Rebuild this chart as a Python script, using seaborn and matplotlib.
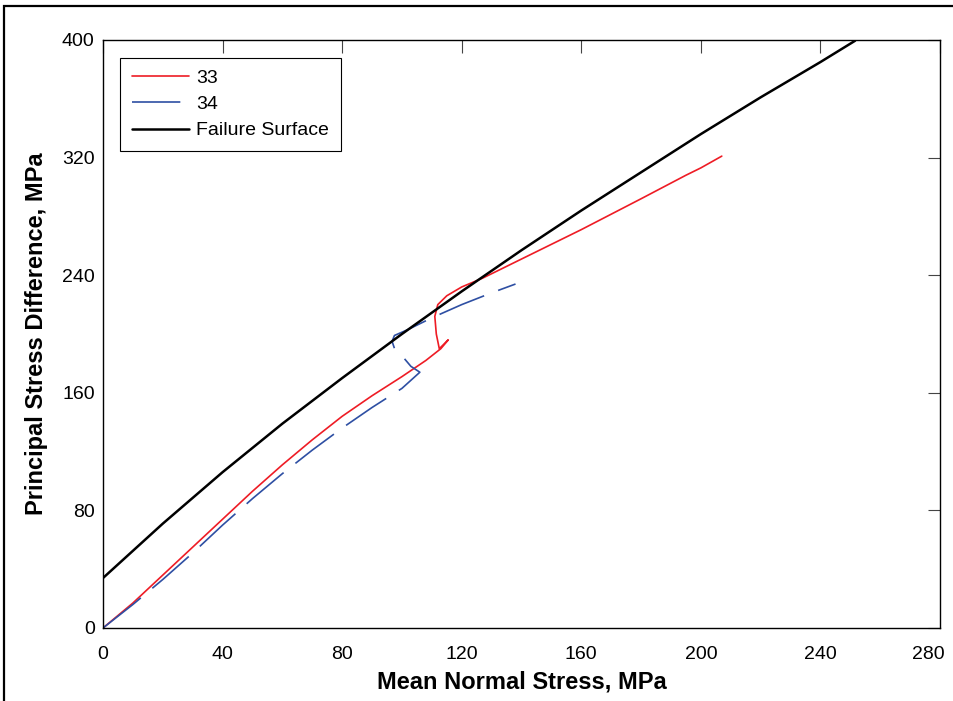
import numpy as np
import pandas as pd
import matplotlib
matplotlib.use('Agg')
import matplotlib.pyplot as plt
import matplotlib.transforms as mtransforms
import seaborn as sns
from matplotlib.patches import Rectangle

# Données (contrainte moyenne, différence de contraintes)
x_33 = [0, 10, 20, 30, 40, 50, 60, 70, 80, 90, 100, 108, 113, 115.5, 112.5,
        111.5, 111, 112, 115, 120, 127, 140, 160, 180, 195, 200, 207]
y_33 = [0, 17, 36, 55, 74, 93, 111, 128, 144, 158, 171, 182, 190, 196, 190,
        200, 212, 220, 226, 232, 238, 251, 271, 292, 308, 313, 321]

x_34 = [0, 10, 20, 30, 40, 50, 60, 70, 80, 90, 100, 106, 103, 100.5, 97.7,
        96.7, 97.5, 102, 110, 120, 130, 138]
y_34 = [0, 16, 33, 51, 70, 88, 105, 121, 136, 150, 163, 174, 178, 184, 189,
        195, 199, 203, 211, 220, 228, 234]

x_fs = [0, 20, 40, 60, 80, 100, 120, 140, 160, 180, 200, 220, 240, 251.6]
y_fs = [34, 71, 106, 139, 170, 200, 229, 257, 284, 310, 336, 361, 385, 399.5]

x_ticks = [0, 40, 80, 120, 160, 200, 240, 280]
y_ticks = [0, 80, 160, 240, 320, 400]

sns.set_style('white')
plt.rcParams['font.family'] = ['Liberation Sans', 'DejaVu Sans']
plt.rcParams['text.color'] = 'black'
plt.rcParams['axes.labelcolor'] = 'black'
plt.rcParams['xtick.color'] = 'black'
plt.rcParams['ytick.color'] = 'black'

fig = plt.figure(figsize=(9.54, 7.01), dpi=100)
ax = fig.add_axes([103 / 954, 1 - 628 / 701, 837 / 954, 588 / 701])

df33 = pd.DataFrame({'x': x_33, 'y': y_33})
df34 = pd.DataFrame({'x': x_34, 'y': y_34})
dffs = pd.DataFrame({'x': x_fs, 'y': y_fs})

sns.lineplot(data=df33, x='x', y='y', sort=False, estimator=None, ax=ax,
             color='#ee1c25', lw=1.2, label='33')
sns.lineplot(data=df34, x='x', y='y', sort=False, estimator=None, ax=ax,
             color='#2e4fa3', lw=1.2, label='34')
ax.lines[-1].set_dashes((29, 9))
sns.lineplot(data=dffs, x='x', y='y', sort=False, estimator=None, ax=ax,
             color='black', lw=1.8, label='Failure Surface')

ax.set_xlim(0, 280)
ax.set_ylim(0, 400)
ax.set_xticks(x_ticks)
ax.set_yticks(y_ticks)
ax.tick_params(direction='in', length=9, width=0.8, color='#444444',
               labelcolor='black', top=True, right=True, labelsize=14, pad=6)
ax.tick_params(axis='x', pad=13)
for s in ax.spines.values():
    s.set_color('black')
    s.set_linewidth(1.0)

# le dernier libellé (280) est décalé vers la gauche comme sur l'original
fig.canvas.draw()
lab = ax.get_xticklabels()[-1]
lab.set_transform(lab.get_transform() +
                  mtransforms.ScaledTranslation(-12 / 100, 0, fig.dpi_scale_trans))

ax.set_xlabel('Mean Normal Stress, MPa', fontsize=17, fontweight='bold', labelpad=5)
ax.set_ylabel('Principal Stress Difference, MPa', fontsize=17, fontweight='bold', labelpad=10)

leg = ax.legend(loc='upper left', fontsize=14, frameon=True, fancybox=False,
                edgecolor='black', framealpha=1, handlelength=2.9,
                handletextpad=0.4, labelspacing=0.45, borderaxespad=0.9,
                borderpad=0.6)
leg.get_frame().set_linewidth(0.8)

# cadre de la figure (rogné à droite et en bas)
fig.patches.append(Rectangle((4.5 / 954, -0.1), 1.2, 1.1 - 5.5 / 701,
                             transform=fig.transFigure, fill=False,
                             edgecolor='black', lw=1.6))

fig.savefig('out.png', dpi=100)
